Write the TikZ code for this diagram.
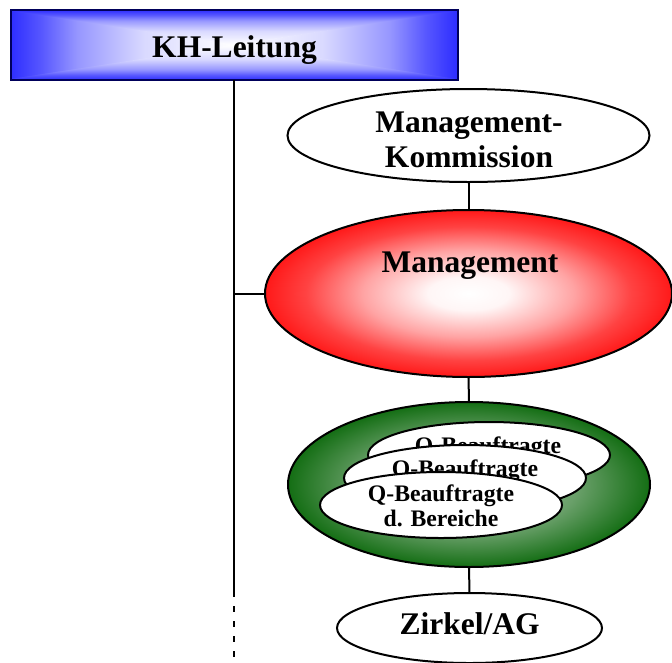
\documentclass[tikz,border=0pt]{standalone}
\usepackage{fontspec}
\setmainfont{Liberation Serif}
\usetikzlibrary{shapes.geometric}
\definecolor{kblue}{RGB}{45,45,255}
\definecolor{knavy}{RGB}{0,0,90}
\definecolor{kred}{RGB}{255,25,25}
\definecolor{kgreen}{RGB}{20,110,20}
\definecolor{kgreenc}{RGB}{175,200,175}
\pgfdeclareverticalshading{bfade}{100bp}{color(0bp)=(kblue); color(25bp)=(kblue); color(32bp)=(kblue!80!white); color(40bp)=(kblue!50!white); color(55bp)=(kblue!18!white); color(75bp)=(white); color(100bp)=(white)}
\pgfdeclareradialshading{redglow}{\pgfpoint{0bp}{0bp}}{color(0bp)=(white); color(5bp)=(white!96!kred); color(13bp)=(kred!40!white); color(20bp)=(kred!82!white); color(25bp)=(kred); color(50bp)=(kred)}
\pgfdeclareradialshading{greenglow}{\pgfpoint{0bp}{0bp}}{color(0bp)=(kgreenc); color(15bp)=(kgreenc!55!kgreen); color(25bp)=(kgreen); color(50bp)=(kgreen)}
\tikzset{
  oval/.style={ellipse, draw=black, line width=2pt, inner sep=0pt, outer sep=0pt},
  conn/.style={draw=black, line width=2pt},
  bigtxt/.style={font=\fontsize{31.5}{35}\selectfont\bfseries, inner sep=0pt, align=center},
  qtxt/.style={font=\fontsize{23.7}{25}\selectfont\bfseries, inner sep=0pt, align=center}
}
\begin{document}
\begin{tikzpicture}[x=1pt,y=-1pt]
\useasboundingbox (0,0) rectangle (672,662);
% KH-Leitung box with rectangular gradient
\begin{scope}
\clip (10,10) rectangle (457,80);
\fill[white] (10,10) rectangle (457,80);
\shade[shading=bfade, shading angle=-90] (10,10) -- (10,80) -- (233.5,45) -- cycle;
\shade[shading=bfade, shading angle=90] (457,10) -- (457,80) -- (233.5,45) -- cycle;
\shade[shading=bfade, shading angle=180] (4,10) -- (463,10) -- (233.5,45) -- cycle;
\shade[shading=bfade, shading angle=0] (4,80) -- (463,80) -- (233.5,45) -- cycle;
\end{scope}
\node[draw=knavy, line width=2pt, minimum width=447pt, minimum height=70pt, inner sep=0pt, outer sep=0pt] (kh) at (234,45) {};
\node[bigtxt, anchor=base] (kht) at (234.5,57) {KH-Leitung};
% Management-Kommission
\node[oval, fill=white, minimum width=362pt, minimum height=93pt] (mk) at (468.5,135.5) {};
\node[bigtxt] (mkt) at (469,139.5) {Management-\\Kommission};
% Management
\node[oval, shading=redglow, minimum width=407pt, minimum height=167pt] (mg) at (468.5,293.5) {};
\node[bigtxt, anchor=base] (mgt) at (470,272) {Management};
% Green ellipse with Q-Beauftragte
\node[oval, shading=greenglow, minimum width=362pt, minimum height=165pt] (gr) at (469,484.5) {};
\node[oval, fill=white, minimum width=242pt, minimum height=66pt] (q1) at (489,455) {};
\node[qtxt, anchor=base] (q1t) at (488,453) {Q-Beauftragte};
\node[oval, fill=white, minimum width=242pt, minimum height=66pt] (q2) at (465,478) {};
\node[qtxt, anchor=base] (q2t) at (465,476) {Q-Beauftragte};
\node[oval, fill=white, minimum width=242pt, minimum height=66pt] (q3) at (441,505) {};
\node[qtxt] (q3t) at (441,506) {Q-Beauftragte\\d. Bereiche};
% Zirkel/AG
\node[oval, fill=white, minimum width=265pt, minimum height=70pt] (zk) at (469.5,628) {};
\node[bigtxt, anchor=base] (zkt) at (469.5,634) {Zirkel/AG};
% connectors
\coordinate (vs) at (234,597);
\coordinate (ve) at (234,658);
\draw[conn] (kh.south) -- (vs);
\draw[conn, dash pattern=on 6pt off 9pt, dash phase=6pt] (vs) -- (ve);
\draw[conn] (mg.west) -- (mg.west -| kh.south);
\draw[conn] (mk.south) -- (mg.north);
\draw[conn] (mg.south) -- (gr.north);
\draw[conn] (gr.south) -- (zk.north);
\end{tikzpicture}
\end{document}
